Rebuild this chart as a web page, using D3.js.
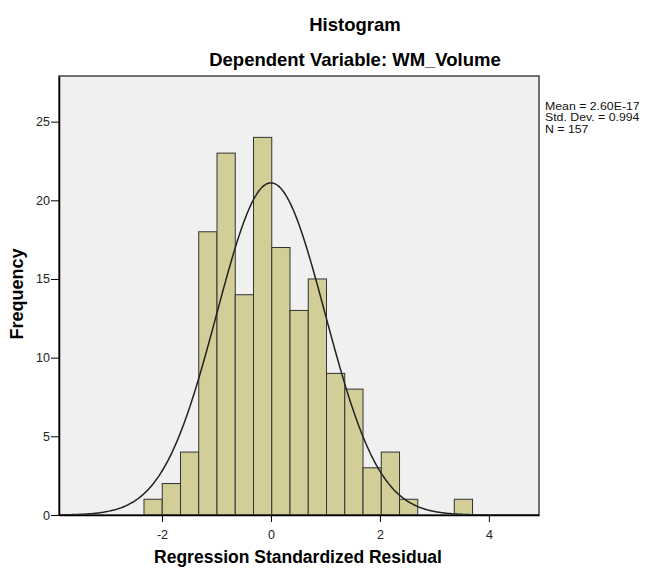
<!DOCTYPE html>
<html>
<head>
<meta charset="utf-8">
<script src="https://cdn.jsdelivr.net/npm/d3@7"></script>
<style>
  body { margin: 0; background: #fff; }
  text { font-family: Arial, "Liberation Sans", sans-serif; }
</style>
</head>
<body>
<div id="chart"></div>
<script>
var svgWidth = 646;
var svgHeight = 571;

// histogram bins (lower edge of first bin, bin width) and counts
var binStart = -2.33;
var binWidth = 0.335;
var counts = [1, 2, 4, 18, 23, 14, 24, 17, 13, 15, 9, 8, 3, 4, 1, 0, 0, 1];

var xTicks = [-2, 0, 2, 4];
var yTicks = [0, 5, 10, 15, 20, 25];

var statMean = 2.60e-17;
var statSd = 0.994;
var statN = 157;
var statLines = ["Mean = 2.60E-17", "Std. Dev. = 0.994", "N = 157"];

var margin = { top: 76, right: 107, bottom: 56, left: 59 };
var width = svgWidth - margin.left - margin.right;
var height = svgHeight - margin.top - margin.bottom;

var svg = d3.select("#chart")
  .append("svg")
  .attr("width", svgWidth)
  .attr("height", svgHeight);

var chartGroup = svg.append("g")
  .attr("transform", `translate(${margin.left}, ${margin.top})`);

var x = d3.scaleLinear().domain([-3.89, 4.92]).range([0, width]);
var y = d3.scaleLinear().domain([0, 27.9]).range([height, 0]);

// plot background
chartGroup.append("rect")
  .attr("width", width)
  .attr("height", height)
  .attr("fill", "#f0f0f0");

var bins = counts.map((c, i) => ({ x0: binStart + i * binWidth, x1: binStart + (i + 1) * binWidth, n: c }));

chartGroup.selectAll("rect.bar")
  .data(bins.filter(d => d.n > 0))
  .enter()
  .append("rect")
  .attr("class", "bar")
  .attr("x", d => x(d.x0))
  .attr("y", d => y(d.n))
  .attr("width", d => x(d.x1) - x(d.x0))
  .attr("height", d => y(0) - y(d.n))
  .attr("fill", "#d3ce97")
  .attr("stroke", "#333")
  .attr("stroke-width", 1);

// fitted normal curve
var xs = d3.range(0, 401).map(i => -3.89 + i * (4.92 + 3.89) / 400);
var scaleK = statN * binWidth / (statSd * Math.sqrt(2 * Math.PI));
var line = d3.line()
  .x(d => x(d))
  .y(d => y(scaleK * Math.exp(-0.5 * Math.pow((d - statMean) / statSd, 2))))
  .curve(d3.curveBasis);

chartGroup.append("path")
  .datum(xs)
  .attr("d", line)
  .attr("fill", "none")
  .attr("stroke", "#222")
  .attr("stroke-width", 1.5);

// frame
chartGroup.append("rect")
  .attr("width", width)
  .attr("height", height)
  .attr("fill", "none")
  .attr("stroke", "#444")
  .attr("stroke-width", 1.5);

var bottomAxis = d3.axisBottom(x).tickValues(xTicks).tickFormat(d => String(d)).tickSize(7).tickSizeOuter(0);
var leftAxis = d3.axisLeft(y).tickValues(yTicks).tickFormat(d => String(d)).tickSize(8).tickSizeOuter(0);

var gx = chartGroup.append("g")
  .attr("transform", `translate(0, ${height})`)
  .call(bottomAxis);
gx.select(".domain").attr("stroke", "#000").attr("stroke-width", 1.5);
gx.selectAll(".tick line").attr("stroke", "#000");
gx.selectAll(".tick text").attr("font-size", 12.5).attr("fill", "#222").attr("dy", "1.15em");

var gy = chartGroup.append("g")
  .call(leftAxis);
gy.select(".domain").attr("stroke", "#000").attr("stroke-width", 1.5);
gy.selectAll(".tick line").attr("stroke", "#000");
gy.selectAll(".tick text").attr("font-size", 12.5).attr("fill", "#222").attr("x", -9);

// titles
svg.append("text")
  .attr("x", 355).attr("y", 31)
  .attr("text-anchor", "middle")
  .style("font-size", "18.5px").style("font-weight", "bold")
  .text("Histogram");

svg.append("text")
  .attr("x", 355).attr("y", 66)
  .attr("text-anchor", "middle")
  .style("font-size", "18.5px").style("font-weight", "bold")
  .text("Dependent Variable: WM_Volume");

svg.append("text")
  .attr("transform", `translate(23, 294) rotate(-90)`)
  .attr("text-anchor", "middle")
  .style("font-size", "18px").style("font-weight", "bold")
  .text("Frequency");

svg.append("text")
  .attr("x", 298).attr("y", 563)
  .attr("text-anchor", "middle")
  .style("font-size", "17.5px").style("font-weight", "bold")
  .text("Regression Standardized Residual");

// stats box (text is a bit wide in the original, so stretch horizontally)
var statGroup = svg.append("g")
  .attr("transform", "translate(545, 0) scale(1.12, 1)");

statGroup.selectAll("text.stat")
  .data(statLines)
  .enter()
  .append("text")
  .attr("class", "stat")
  .attr("x", 0)
  .attr("y", (d, i) => 110 + i * 11.5)
  .style("font-size", "11px")
  .attr("fill", "#111")
  .text(d => d);
</script>
</body>
</html>
